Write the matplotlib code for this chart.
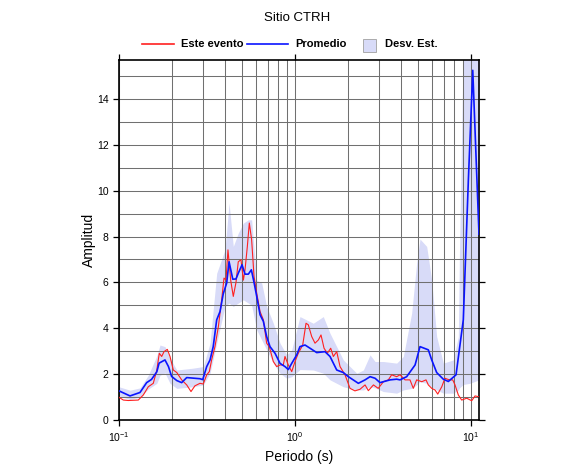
import matplotlib
matplotlib.use('Agg')
import matplotlib.pyplot as plt
from matplotlib.lines import Line2D
from matplotlib.patches import Rectangle
import numpy as np

plt.rcParams['font.family'] = ['Liberation Sans', 'DejaVu Sans']
plt.rcParams['mathtext.default'] = 'regular'

# promedio (mean spectral ratio)
mean_period = [0.100, 0.1155, 0.1316, 0.1436, 0.153, 0.164, 0.169, 0.1825, 0.191, 0.199,
               0.213, 0.227, 0.2425, 0.2885, 0.299, 0.315, 0.329, 0.343, 0.359, 0.375,
               0.391, 0.409, 0.422, 0.443, 0.462, 0.476, 0.500, 0.520, 0.543, 0.565,
               0.585, 0.606, 0.633, 0.661, 0.690, 0.721, 0.770, 0.822, 0.877, 0.916,
               0.958, 1.023, 1.067, 1.140, 1.217, 1.328, 1.480, 1.581, 1.726, 1.881,
               2.009, 2.29, 2.50, 2.67, 2.85, 3.04, 3.47, 3.78, 3.95, 4.31,
               4.81, 5.13, 5.72, 5.98, 6.38, 6.96, 7.43, 8.22, 9.04, 9.66,
               10.23, 11.10]
mean_amp = [1.27, 1.05, 1.20, 1.63, 1.77, 2.10, 2.48, 2.62, 2.33, 1.90,
            1.72, 1.63, 1.85, 1.80, 1.76, 2.33, 2.62, 3.20, 4.37, 4.73,
            5.50, 5.97, 6.90, 6.14, 6.15, 6.40, 6.77, 6.36, 6.36, 6.55,
            6.00, 5.39, 4.59, 4.30, 3.64, 3.20, 2.91, 2.47, 2.33, 2.20,
            2.47, 2.84, 3.20, 3.27, 3.13, 2.94, 2.98, 2.77, 2.18, 2.07,
            1.89, 1.60, 1.75, 1.89, 1.82, 1.63, 1.75, 1.78, 1.75, 1.89,
            2.40, 3.20, 3.06, 2.62, 2.07, 1.78, 1.68, 1.97, 4.37, 10.48,
            15.25, 8.10]

# este evento
event_period = [0.100, 0.1058, 0.1129, 0.1287, 0.1374, 0.1467, 0.1566, 0.164, 0.1694, 0.1748,
                0.1802, 0.1881, 0.1949, 0.2035, 0.213, 0.227, 0.2425, 0.2565, 0.270, 0.2885,
                0.301, 0.315, 0.326, 0.336, 0.351, 0.367, 0.383, 0.395, 0.4055, 0.416,
                0.431, 0.446, 0.462, 0.476, 0.493, 0.509, 0.520, 0.536, 0.550, 0.567,
                0.585, 0.606, 0.633, 0.661, 0.690, 0.714, 0.753, 0.787, 0.822, 0.858,
                0.877, 0.916, 0.958, 1.000, 1.044, 1.106, 1.155, 1.190, 1.244, 1.299,
                1.357, 1.405, 1.462, 1.526, 1.595, 1.651, 1.726, 1.802, 1.923, 2.054,
                2.19, 2.34, 2.50, 2.61, 2.79, 2.97, 3.18, 3.39, 3.54, 3.78,
                3.95, 4.22, 4.50, 4.70, 4.91, 5.25, 5.55, 5.72, 5.98, 6.24,
                6.47, 6.82, 7.11, 7.53, 7.87, 8.11, 8.47, 8.85, 9.45, 10.09,
                10.54, 11.00]
event_amp = [0.99, 0.87, 0.85, 0.87, 1.09, 1.45, 1.60, 2.18, 2.91, 2.77,
             2.98, 3.08, 2.77, 2.18, 2.07, 1.75, 1.53, 1.24, 1.49, 1.60,
             1.57, 1.97, 2.11, 2.62, 3.20, 4.08, 5.24, 6.19, 6.10, 7.42,
             6.10, 5.39, 6.00, 6.90, 6.99, 6.10, 6.55, 7.57, 8.59, 7.86,
             6.26, 5.53, 4.73, 4.37, 3.35, 3.20, 2.55, 2.33, 2.40, 2.40,
             2.77, 2.40, 2.11, 2.55, 2.91, 3.27, 4.22, 4.15, 3.64, 3.35,
             3.49, 3.71, 3.13, 2.91, 3.13, 2.77, 2.98, 2.33, 1.97, 1.38,
             1.27, 1.34, 1.53, 1.28, 1.53, 1.38, 1.67, 1.75, 1.97, 1.89,
             1.97, 1.75, 1.75, 1.38, 1.75, 1.67, 1.75, 1.53, 1.38, 1.31,
             1.13, 1.45, 1.82, 1.75, 1.75, 1.53, 1.09, 0.87, 0.95, 0.84,
             1.05, 1.02]

# desviacion estandar (band around the mean)
band_period = [0.100, 0.1155, 0.1316, 0.1467, 0.164, 0.171, 0.1825, 0.1949, 0.213, 0.263,
               0.301, 0.329, 0.359, 0.400, 0.422, 0.446, 0.476, 0.509, 0.543, 0.567,
               0.606, 0.647, 0.690, 0.753, 0.822, 0.897, 0.958, 1.067, 1.270, 1.448,
               1.581, 1.881, 2.242, 2.445, 2.67, 2.85, 3.18, 3.78, 4.125, 4.60,
               4.91, 5.13, 5.60, 5.98, 6.38, 6.96, 7.93, 8.47, 8.60, 9.04,
               9.86, 11.10]
band_upper = [1.45, 1.30, 1.40, 1.95, 2.80, 3.27, 3.20, 2.70, 2.18, 2.26,
              2.33, 3.35, 6.40, 7.42, 9.46, 7.57, 8.15, 8.59, 8.73, 8.73,
              6.10, 5.97, 4.95, 4.22, 3.35, 2.84, 3.06, 4.51, 4.22, 4.51,
              3.78, 2.62, 2.04, 2.18, 2.84, 2.55, 2.55, 2.48, 2.77, 4.66,
              6.84, 7.89, 7.57, 6.10, 3.64, 2.48, 2.62, 3.64, 7.40, 16.5,
              16.5, 16.5]
band_lower = [1.05, 0.90, 1.00, 1.35, 1.60, 1.95, 2.05, 1.60, 1.38, 1.45,
              1.53, 2.04, 3.35, 4.95, 5.10, 4.95, 5.10, 5.24, 5.10, 5.00,
              3.93, 3.49, 3.06, 2.48, 2.04, 1.82, 1.89, 2.20, 2.18, 2.04,
              1.75, 1.45, 1.31, 1.31, 1.45, 1.40, 1.24, 1.17, 1.31, 1.38,
              1.53, 1.67, 1.60, 1.45, 1.31, 1.17, 1.17, 1.30, 1.40, 1.55,
              1.60, 1.75]

x_minor = [0.2, 0.3, 0.4, 0.5, 0.6, 0.7, 0.8, 0.9, 2, 3, 4, 5, 6, 7, 8, 9]
x_major = [0.1, 1, 10]
x_labels = ['10$^{-1}$', '10$^{0}$', '10$^{1}$']

W, H = 586, 475
fig = plt.figure(figsize=(W / 100, H / 100), dpi=100)
ax = fig.add_axes([119 / W, (H - 420) / H, 360 / W, 360 / H])

band_color = '#d8dbf8'
ax.fill_between(band_period, band_lower, band_upper, color=band_color, lw=0, zorder=1)
ax.plot(event_period, event_amp, color='#ff2020', lw=0.8, zorder=3)
ax.plot(mean_period, mean_amp, color='#0a14ff', lw=1.2, zorder=4)

ax.set_xscale('log')
ax.set_xlim(0.1, 11.1)
ax.set_ylim(0, 15.7)

ax.set_xticks(x_major)
ax.set_xticklabels(x_labels)
ax.set_xticks(x_minor, minor=True)
ax.xaxis.set_minor_formatter(plt.NullFormatter())
ax.set_yticks(np.arange(0, 15, 2))
ax.set_yticks(np.arange(1, 16, 2), minor=True)

ax.grid(which='both', color='#707070', lw=0.75)
ax.tick_params(which='major', direction='out', length=4.5, width=0.9,
               top=True, right=True, labelsize=7.5, pad=3)
ax.tick_params(which='minor', length=0)
for s in ax.spines.values():
    s.set_linewidth(1.2)

ax.set_xlabel('Periodo (s)', fontsize=10)
ax.set_ylabel('Amplitud', fontsize=10)
ax.xaxis.label.set(va='center', ha='center')
ax.yaxis.label.set(va='center', ha='center')
ax.xaxis.set_label_coords(0.5, (420 - 457) / 360)
ax.yaxis.set_label_coords((89 - 119) / 360, 0.5)

fig.text(297 / W, 1 - 18 / H, 'Sitio CTRH', ha='center', va='center', fontsize=9.5)

# legend row drawn by hand (square swatch for the band)
ly = 1 - 44 / H
fig.add_artist(Line2D([142 / W, 174 / W], [ly, ly], color='#ff2020', lw=1.2))
fig.text(181 / W, ly, 'Este evento', ha='left', va='center', fontsize=8, fontweight='bold')
fig.add_artist(Line2D([247 / W, 288 / W], [ly, ly], color='#0a14ff', lw=1.2))
fig.text(295 / W, ly, 'Promedio', ha='left', va='center', fontsize=8, fontweight='bold')
fig.add_artist(Rectangle((363 / W, 1 - 52 / H), 13 / W, 13 / H, facecolor=band_color,
                         edgecolor='#a0a0a0', lw=0.6, transform=fig.transFigure))
fig.text(385 / W, ly, 'Desv. Est.', ha='left', va='center', fontsize=8, fontweight='bold')

fig.savefig('out.png', dpi=100)
